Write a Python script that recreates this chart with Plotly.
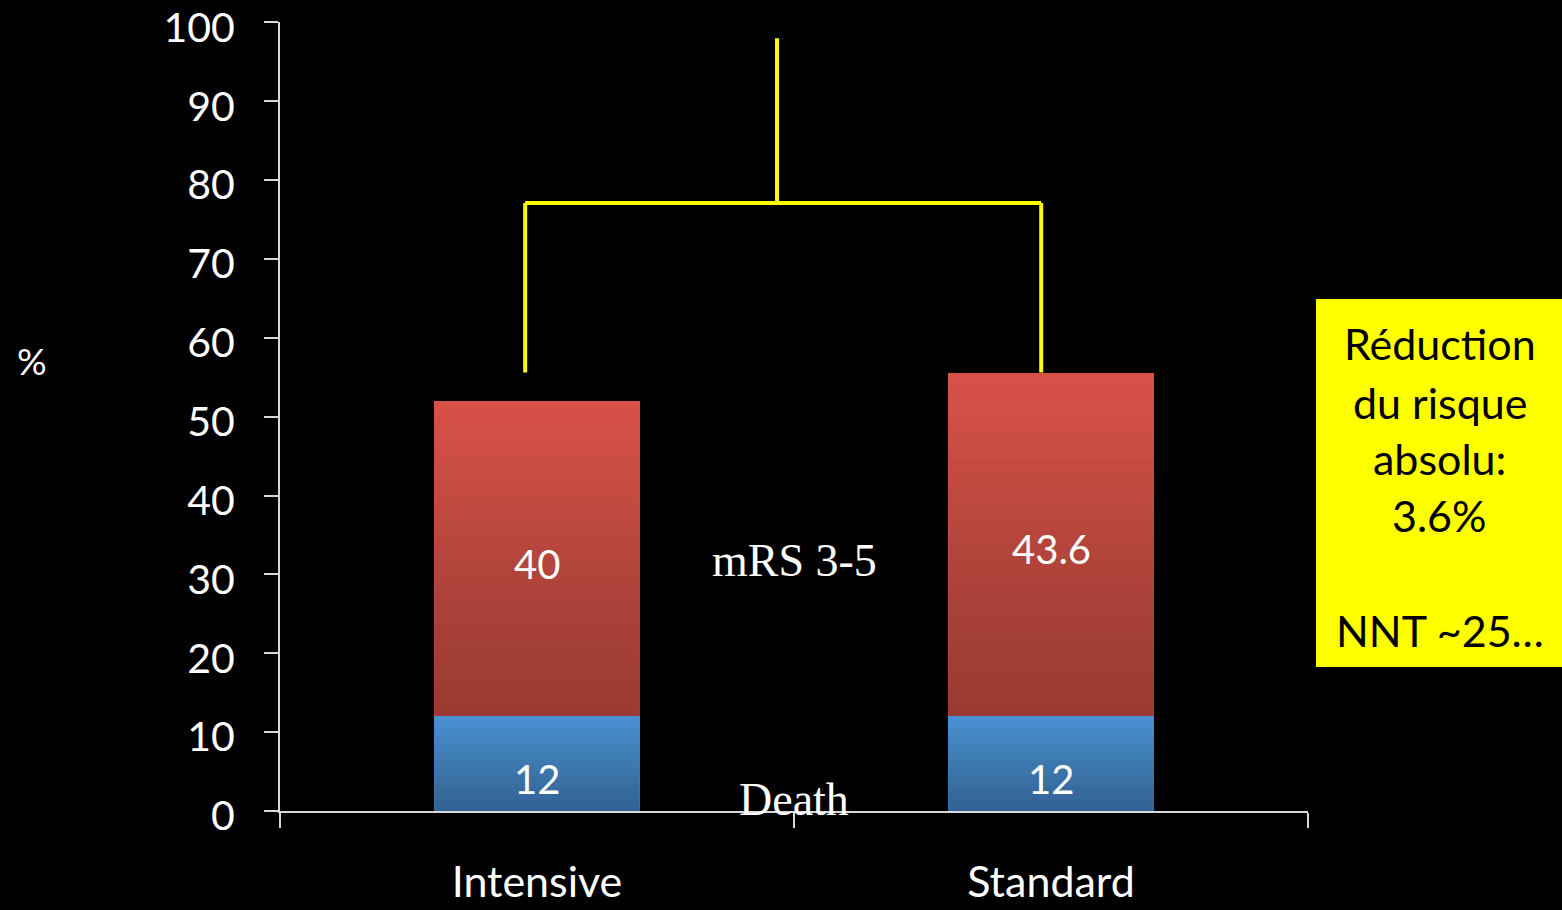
import plotly.graph_objects as go

# Outcome data (%)
groups = ["Intensive", "Standard"]
death = [12, 12]
mrs_3_5 = [40, 43.6]
y_ticks = [0, 10, 20, 30, 40, 50, 60, 70, 80, 90, 100]
box_lines = ["Réduction", "du risque", "absolu:", "3.6%", "NNT ~25…"]
box_line_y = [0.593, 0.518, 0.447, 0.375, 0.229]

RED = "#da5249"
BLUE = "#4a92d4"
YELLOW = "#ffff00"
AXIS = "#d8d8d8"
SANS = "Lato"
SERIF = "Liberation Serif"
BAR_W = 0.4

fig = go.Figure()
fig.add_trace(go.Bar(x=groups, y=death, name="Death", marker=dict(color=BLUE, line_width=0),
                     width=BAR_W, hoverinfo="skip"))
fig.add_trace(go.Bar(x=groups, y=mrs_3_5, name="mRS 3-5", marker=dict(color=RED, line_width=0),
                     width=BAR_W, hoverinfo="skip"))

shapes = []
annotations = []

# vertical shading on each stacked segment: nested translucent layers anchored at the
# segment base, so the darkening builds up smoothly toward the bottom
N = 24
for i, g in enumerate(groups):
    segments = [(0, death[i]), (death[i], death[i] + mrs_3_5[i])]
    for lo, hi in segments:
        for k in range(1, N + 1):
            shapes.append(dict(type="rect", xref="x", yref="y",
                               x0=i - BAR_W / 2, x1=i + BAR_W / 2,
                               y0=lo, y1=lo + (hi - lo) * k / N,
                               fillcolor="rgba(0,0,0,0.01)", line_width=0, layer="above"))

# value labels inside segments
for i, g in enumerate(groups):
    annotations.append(dict(x=i, y=death[i] / 2, xref="x", yref="y", text=f"{death[i]:g}",
                            showarrow=False, yshift=-15,
                            font=dict(family=SANS, size=40, color="white")))
    annotations.append(dict(x=i, y=death[i] + mrs_3_5[i] / 2, xref="x", yref="y",
                            text=f"{mrs_3_5[i]:g}", showarrow=False, yshift=-5,
                            font=dict(family=SANS, size=40, color="white")))

# series names between the bars
annotations.append(dict(x=0.5, y=31.8, xref="x", yref="y", text="mRS 3-5", showarrow=False,
                        font=dict(family=SERIF, size=46, color="white")))
annotations.append(dict(x=0.5, y=1.4, xref="x", yref="y", text="Death", showarrow=False,
                        font=dict(family=SERIF, size=46, color="white")))

# comparison bracket
top_total = max(d + m for d, m in zip(death, mrs_3_5))
bracket_y = 77.1
left_x, right_x, stem_x = -0.023, 0.981, 0.467
bracket = dict(color=YELLOW, width=4)
shapes += [
    dict(type="line", xref="x", yref="y", x0=left_x, x1=left_x, y0=top_total, y1=bracket_y, line=bracket),
    dict(type="line", xref="x", yref="y", x0=right_x, x1=right_x, y0=top_total, y1=bracket_y, line=bracket),
    dict(type="line", xref="x", yref="y", x0=left_x, x1=right_x, y0=bracket_y, y1=bracket_y, line=bracket),
    dict(type="line", xref="x", yref="y", x0=stem_x, x1=stem_x, y0=bracket_y, y1=98, line=bracket),
]

# yellow call-out box on the right
shapes.append(dict(type="rect", xref="paper", yref="paper", x0=1.0078, x1=1.25, y0=0.1825, y1=0.6489,
                   fillcolor=YELLOW, line_width=0, layer="above"))
for txt, yy in zip(box_lines, box_line_y):
    annotations.append(dict(x=1.1284, y=yy, xref="paper", yref="paper", text=txt, showarrow=False,
                            xanchor="center", yanchor="middle",
                            font=dict(family=SANS, size=43, color="black")))

# y-axis unit
annotations.append(dict(x=-0.258, y=0.5716, xref="paper", yref="paper", text="%", showarrow=False,
                        xanchor="left", yanchor="middle",
                        font=dict(family=SANS, size=37, color="white")))

fig.update_layout(
    width=1562, height=910,
    margin=dict(l=280, r=254, t=22, b=99, autoexpand=False),
    paper_bgcolor="black", plot_bgcolor="black",
    barmode="stack", showlegend=False,
    font=dict(family=SANS, color="white", size=40),
    shapes=shapes, annotations=annotations,
    xaxis=dict(type="category", range=[-0.5, 1.5], showline=True, linecolor=AXIS, linewidth=2,
               ticks="outside", tickson="boundaries", ticklen=15, tickwidth=1.5, tickcolor=AXIS,
               showgrid=False, zeroline=False, ticklabelstandoff=32,
               tickfont=dict(family=SANS, size=43, color="white")),
    yaxis=dict(range=[0, 100.05], tickvals=y_ticks, showline=True, linecolor=AXIS, linewidth=2,
               ticks="outside", ticklen=14, tickwidth=1.5, tickcolor=AXIS,
               showgrid=False, zeroline=False, ticklabelstandoff=21, ticklabelshift=5,
               ticklabeloverflow="allow",
               tickfont=dict(family=SANS, size=41, color="white")),
)

fig.write_html("out.html")
